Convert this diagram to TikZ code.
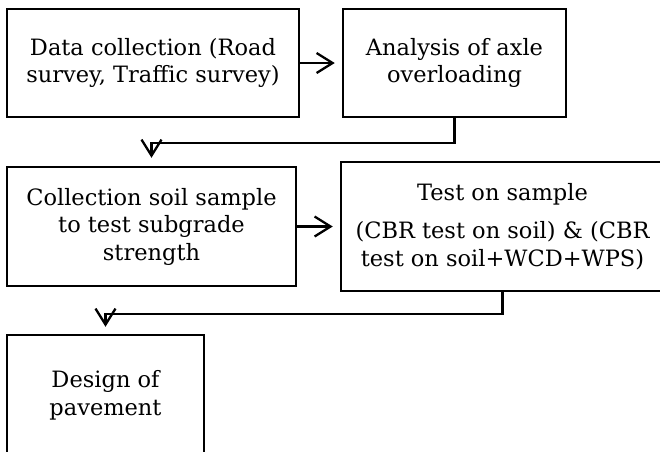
\documentclass[tikz,border=0pt]{standalone}
\usepackage{fontspec}
\setmainfont{DejaVu Serif}
\usetikzlibrary{arrows.meta}
\begin{document}
\begin{tikzpicture}[x=1pt,y=-1pt,
  box/.style={draw, line width=2.5pt, align=center, inner sep=0pt,
    font=\fontsize{22.5}{27.5}\selectfont},
  conn/.style={line width=2.3pt, -{Straight Barb[length=16pt,width=20pt,line width=2.3pt]}}]
\useasboundingbox (0,0) rectangle (660,451);
\clip (0,0) rectangle (660,451);
\node[box, minimum width=292pt, minimum height=108pt] (b1) at (153,63)
  {Data collection (Road\\survey, Traffic survey)};
\node[box, minimum width=223pt, minimum height=108pt] (b2) at (454.5,63)
  {Analysis of axle\\overloading};
\node[box, minimum width=289pt, minimum height=119pt] (b3) at (151.5,226.5)
  {Collection soil sample\\to test subgrade\\strength};
\node[box, minimum width=323pt, minimum height=129pt] (b4) at (502.5,226.5)
  {Test on sample\\[11pt](CBR test on soil) \& (CBR\\test on soil+WCD+WPS)};
\node[box, minimum width=197pt, minimum height=121pt] (b5) at (105.5,395.5)
  {Design of\\pavement};
\draw[conn, shorten >=7pt] (b1.east) -- (b2.west);
\draw[conn, shorten >=7pt] (b3.east) -- (b4.west);
\draw[conn, shorten >=8pt] (b2.south) -- ++(0,25) -| (b3.north);
\draw[conn, shorten >=7pt] (b4.south) -- ++(0,22) -| (b5.north);
\end{tikzpicture}
\end{document}
